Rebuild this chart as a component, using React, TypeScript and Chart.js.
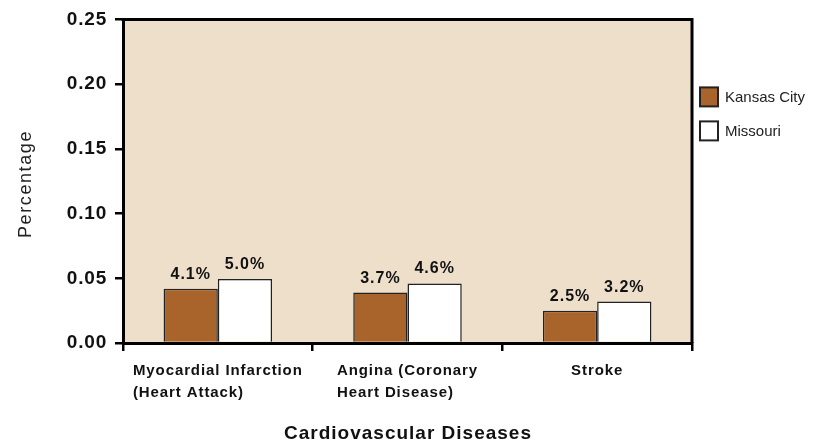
import React, { useEffect, useRef } from 'react';
import { Chart, registerables } from 'chart.js';

Chart.register(...registerables);

const categories: string[][] = [
  ['Myocardial Infarction', '(Heart Attack)'],
  ['Angina (Coronary', 'Heart Disease)'],
  ['Stroke'],
];
const seriesNames = ['Kansas City', 'Missouri'];
const kansasCity = [0.042, 0.039, 0.025];
const missouri = [0.0495, 0.046, 0.032];
const kansasCityLabels = ['4.1%', '3.7%', '2.5%'];
const missouriLabels = ['5.0%', '4.6%', '3.2%'];
const yTicks = [0, 0.05, 0.1, 0.15, 0.2, 0.25];
const yTitle = 'Percentage';
const xTitle = 'Cardiovascular Diseases';

const FONT = '"Liberation Sans", Arial, Helvetica, sans-serif';
const KC_COLOR = '#A8642A';
const MO_COLOR = '#FFFFFF';
const BG = '#EEDFCB';

const valueLabels = [kansasCityLabels, missouriLabels];

const customPlugin = {
  id: 'customDraw',
  beforeDraw(chart: any) {
    const { ctx, chartArea: a } = chart;
    ctx.save();
    ctx.fillStyle = BG;
    ctx.fillRect(a.left, a.top, a.right - a.left, a.bottom - a.top);
    ctx.restore();
    ctx.letterSpacing = '0.8px';
  },
  afterDatasetsDraw(chart: any) {
    const { ctx } = chart;
    ctx.save();
    ctx.letterSpacing = '1px';
    ctx.font = `bold 16px ${FONT}`;
    ctx.fillStyle = '#111';
    ctx.textAlign = 'center';
    ctx.textBaseline = 'alphabetic';
    chart.data.datasets.forEach((ds: any, di: number) => {
      const meta = chart.getDatasetMeta(di);
      meta.data.forEach((el: any, i: number) => {
        ctx.fillText(valueLabels[di][i], el.x, el.y - 10);
      });
    });
    ctx.restore();
  },
  afterDraw(chart: any) {
    const { ctx, chartArea: a } = chart;
    ctx.save();
    // top and right frame
    ctx.strokeStyle = '#000';
    ctx.lineWidth = 3;
    ctx.beginPath();
    ctx.moveTo(a.left - 1.5, a.top);
    ctx.lineTo(a.right, a.top);
    ctx.lineTo(a.right, a.bottom);
    ctx.stroke();

    // x category labels (left-aligned blocks, centered on category)
    const xs = chart.scales.x;
    ctx.letterSpacing = '0.9px';
    ctx.font = `bold 15px ${FONT}`;
    ctx.fillStyle = '#111';
    ctx.textAlign = 'left';
    ctx.textBaseline = 'alphabetic';
    categories.forEach((lines, i) => {
      const cx = xs.getPixelForValue(i);
      const w = Math.max(...lines.map((l) => ctx.measureText(l).width));
      lines.forEach((l, k) => {
        ctx.fillText(l, cx - w / 2, a.bottom + 32 + k * 22);
      });
    });

    // x title
    ctx.letterSpacing = '1px';
    ctx.font = `bold 19px ${FONT}`;
    ctx.textAlign = 'center';
    ctx.textBaseline = 'alphabetic';
    ctx.fillText(xTitle, (a.left + a.right) / 2 + 0.5, 438.5);

    // y title
    ctx.save();
    ctx.letterSpacing = '1.6px';
    ctx.font = `18px ${FONT}`;
    ctx.fillStyle = '#222';
    ctx.translate(31, 184);
    ctx.rotate(-Math.PI / 2);
    ctx.textAlign = 'center';
    ctx.fillText(yTitle, 0, 0);
    ctx.restore();

    // legend
    ctx.letterSpacing = '0px';
    ctx.font = `15px ${FONT}`;
    ctx.textAlign = 'left';
    ctx.textBaseline = 'middle';
    chart.data.datasets.forEach((ds: any, di: number) => {
      const bx = a.right + 8;
      const by = a.top + 68 + di * 34;
      ctx.fillStyle = ds.backgroundColor;
      ctx.fillRect(bx, by, 18, 19);
      ctx.strokeStyle = '#222';
      ctx.lineWidth = 2;
      ctx.strokeRect(bx, by, 18, 19);
      ctx.fillStyle = '#222';
      ctx.fillText(ds.label, a.right + 33, by + 10);
    });
    ctx.restore();
  },
};

export default function App() {
  const ref = useRef<HTMLCanvasElement>(null);
  useEffect(() => {
    if (!ref.current) return;
    const chart = new Chart(ref.current, {
      type: 'bar',
      data: {
        labels: categories.map((c) => c.join(' ')),
        datasets: [
          {
            label: seriesNames[0],
            data: kansasCity,
            backgroundColor: KC_COLOR,
            borderColor: '#222',
            borderWidth: 1.5,
          },
          {
            label: seriesNames[1],
            data: missouri,
            backgroundColor: MO_COLOR,
            borderColor: '#222',
            borderWidth: 1.5,
          },
        ],
      },
      options: {
        animation: false,
        responsive: true,
        maintainAspectRatio: false,
        devicePixelRatio: 1,
        layout: { padding: { top: 15, right: 134, left: 0, bottom: 0 } },
        datasets: { bar: { barPercentage: 1, categoryPercentage: 0.572 } },
        plugins: {
          legend: { display: false },
          tooltip: { enabled: false },
        },
        scales: {
          x: {
            afterFit: (s: any) => {
              s.height = 99;
            },
            ticks: { display: false },
            grid: {
              display: true,
              drawOnChartArea: false,
              drawTicks: true,
              tickLength: 8,
              color: '#000',
              lineWidth: 2.5,
            },
            border: { display: true, color: '#000', width: 3 },
            title: { display: false },
          },
          y: {
            min: 0,
            max: 0.25,
            afterFit: (s: any) => {
              s.width = 123;
            },
            afterBuildTicks: (s: any) => {
              s.ticks = yTicks.map((v) => ({ value: v }));
            },
            ticks: {
              padding: 8,
              color: '#111',
              font: { family: FONT, size: 19, weight: 'bold' },
              callback: (v: any) => Number(v).toFixed(2),
            },
            grid: {
              display: true,
              drawOnChartArea: false,
              drawTicks: true,
              tickLength: 8,
              color: '#000',
              lineWidth: 2.5,
            },
            border: { display: true, color: '#000', width: 3 },
            title: { display: false },
          },
        },
      },
      plugins: [customPlugin],
    });
    return () => chart.destroy();
  }, []);
  return (
    <div style={{ position: 'absolute', left: 0, top: 0, width: 826, height: 442 }}>
      <canvas ref={ref} />
    </div>
  );
}
